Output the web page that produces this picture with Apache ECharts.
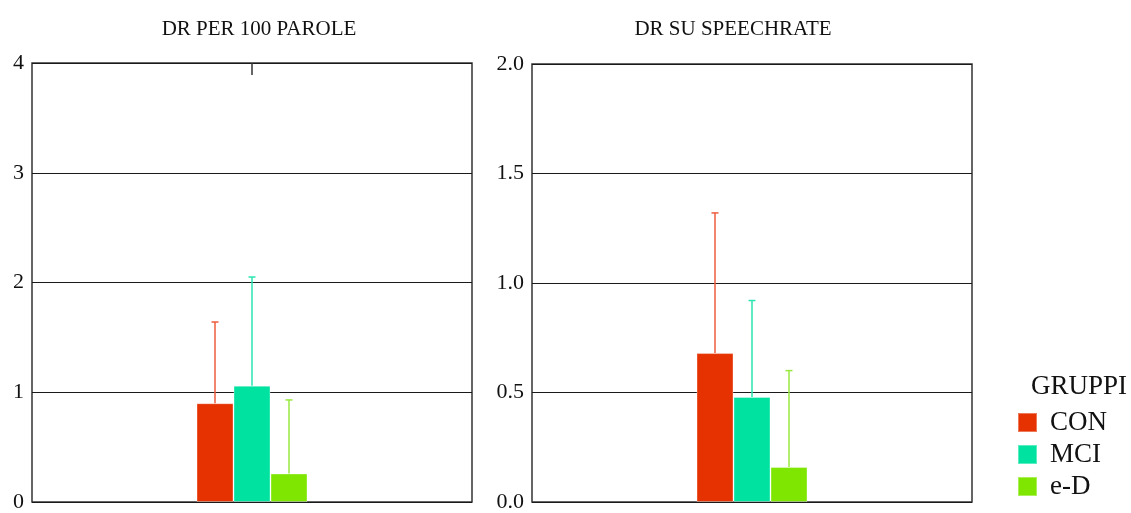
<!DOCTYPE html>
<html>
<head>
<meta charset="utf-8">
<script src="https://cdn.jsdelivr.net/npm/echarts@6/dist/echarts.min.js"></script>
<style>
  html, body { margin: 0; padding: 0; background: #fff; }
  #chart { width: 1131px; height: 513px; }
</style>
</head>
<body>
<div id="chart"></div>
<script>
// Groups and their colours
const groups = ['CON', 'MCI', 'e-D'];
const barColors = ['#e53200', '#00e3a0', '#7ee600'];
const errColors = ['#ee5c3c', '#2ae6b0', '#98e840'];

// Panel 1: DR per 100 parole (mean and mean + SD)
const drParoleMean = [0.90, 1.06, 0.26];
const drParoleUpper = [1.64, 2.05, 0.93];

// Panel 2: DR su speechrate (mean and mean + SD)
const drSpeechMean = [0.68, 0.48, 0.16];
const drSpeechUpper = [1.32, 0.92, 0.60];

const panelTitles = ['DR PER 100 PAROLE', 'DR SU SPEECHRATE'];
const yTicks1 = [0, 1, 2, 3, 4];
const yTicks2 = [0, 0.5, 1.0, 1.5, 2.0];

const SERIF = '"Liberation Serif", "DejaVu Serif", serif';
const BAR_W = 37;

const chart = echarts.init(document.getElementById('chart'));

function barSeries(gridIdx, means) {
  return groups.map((g, i) => ({
    name: g,
    type: 'bar',
    xAxisIndex: gridIdx,
    yAxisIndex: gridIdx,
    barWidth: BAR_W,
    barGap: '0%',
    data: [means[i]],
    itemStyle: { color: barColors[i], borderColor: 'rgba(255,255,255,0.35)', borderWidth: 1 },
    z: 3
  }));
}

function errorSeries(gridIdx, means, uppers) {
  return groups.map((g, i) => ({
    name: g + ' sd',
    type: 'custom',
    xAxisIndex: gridIdx,
    yAxisIndex: gridIdx,
    data: [[0, means[i], uppers[i]]],
    z: 4,
    renderItem: function (params, api) {
      const base = api.coord([api.value(0), api.value(1)]);
      const top = api.coord([api.value(0), api.value(2)]);
      const x = base[0] + (i - 1) * BAR_W;
      const style = { stroke: errColors[i], lineWidth: 1.5 };
      return {
        type: 'group',
        children: [
          { type: 'line', shape: { x1: x, y1: base[1], x2: x, y2: top[1] }, style: style },
          { type: 'line', shape: { x1: x - 3.5, y1: top[1], x2: x + 3.5, y2: top[1] }, style: style }
        ]
      };
    }
  }));
}

const yLabelStyle = { fontFamily: SERIF, fontSize: 22, color: '#111', margin: 8 };
const splitStyle = { show: true, lineStyle: { color: '#1a1a1a', width: 1 } };
const titleStyle = { fontFamily: SERIF, fontSize: 21, fontWeight: 'normal', color: '#111' };

const option = {
  animation: false,
  backgroundColor: '#fff',
  title: [
    { text: panelTitles[0], left: 254, top: 14, textAlign: 'center', textStyle: titleStyle },
    { text: panelTitles[1], left: 728, top: 14, textAlign: 'center', textStyle: titleStyle },
    { text: 'GRUPPI', left: 1026, top: 368,
      textStyle: { fontFamily: SERIF, fontSize: 27, fontWeight: 'normal', color: '#111' } }
  ],
  legend: {
    data: groups,
    orient: 'vertical',
    left: 1017,
    top: 409,
    height: 130,
    padding: 0,
    itemWidth: 19,
    itemHeight: 19,
    itemGap: 5,
    icon: 'rect',
    textStyle: { fontFamily: SERIF, fontSize: 27, color: '#111', padding: [0, 0, 0, 8] }
  },
  grid: [
    { left: 32, top: 63, width: 440, height: 441, show: true, borderColor: '#333', borderWidth: 1.5, backgroundColor: '#fff' },
    { left: 532, top: 64, width: 440, height: 440, show: true, borderColor: '#333', borderWidth: 1.5, backgroundColor: '#fff' }
  ],
  xAxis: [
    { type: 'category', gridIndex: 0, data: [''], axisLine: { show: false }, axisTick: { show: false }, axisLabel: { show: false } },
    { type: 'category', gridIndex: 1, data: [''], axisLine: { show: false }, axisTick: { show: false }, axisLabel: { show: false } },
    { type: 'category', gridIndex: 0, position: 'top', data: [''],
      axisLine: { show: false },
      axisTick: { show: true, inside: true, alignWithLabel: true, length: 12, lineStyle: { color: '#333', width: 1.5 } },
      axisLabel: { show: false } }
  ],
  yAxis: [
    { type: 'value', gridIndex: 0, min: yTicks1[0], max: yTicks1[yTicks1.length - 1], interval: 1,
      axisLine: { show: false }, axisTick: { show: false },
      axisLabel: yLabelStyle, splitLine: splitStyle },
    { type: 'value', gridIndex: 1, min: yTicks2[0], max: yTicks2[yTicks2.length - 1], interval: 0.5,
      axisLine: { show: false }, axisTick: { show: false },
      axisLabel: Object.assign({ formatter: v => v.toFixed(1) }, yLabelStyle), splitLine: splitStyle }
  ],
  series: [].concat(
    barSeries(0, drParoleMean),
    errorSeries(0, drParoleMean, drParoleUpper),
    barSeries(1, drSpeechMean),
    errorSeries(1, drSpeechMean, drSpeechUpper)
  )
};

chart.setOption(option);
</script>
</body>
</html>
